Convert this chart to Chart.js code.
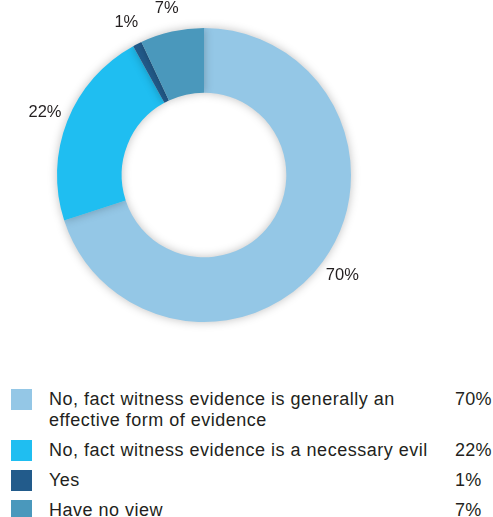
<!DOCTYPE html>
<html>
<head>
<meta charset="utf-8">
<script src="https://cdn.jsdelivr.net/npm/chart.js@4"></script>
<style>
  body { margin: 0; background: #fff; font-family: "Liberation Sans", Arial, sans-serif; color: #231f20; }
  #wrap { position: relative; width: 493px; height: 345px; }
  #legend { position: absolute; left: 0; top: 389px; width: 493px; }
  .row { position: relative; margin-bottom: 9px; }
  .sw { position: absolute; left: 11px; top: 0; width: 21px; height: 21px; }
  .txt { margin-left: 49px; width: 392px; font-size: 18px; line-height: 21px; letter-spacing: 0.5px; }
  .val { position: absolute; left: 455px; top: 0; font-size: 18px; line-height: 21px; letter-spacing: 0.3px; }
</style>
</head>
<body>
<div id="wrap"><canvas id="pie"></canvas></div>
<div id="legend"></div>
<script>
const categories = [
  "No, fact witness evidence is generally an effective form of evidence",
  "No, fact witness evidence is a necessary evil",
  "Yes",
  "Have no view"
];
const values = [70, 22, 1, 7];
const colors = ["#94c7e6", "#1fbef1", "#225b8b", "#4a98bc"];

const outerLabels = {
  id: "outerLabels",
  afterDatasetsDraw(chart) {
    const ctx = chart.ctx;
    const meta = chart.getDatasetMeta(0);
    ctx.save();
    ctx.font = "16.5px 'Liberation Sans', Arial, sans-serif";
    ctx.fillStyle = "#231f20";
    ctx.textAlign = "center";
    ctx.textBaseline = "middle";
    meta.data.forEach((arc, i) => {
      const mid = (arc.startAngle + arc.endAngle) / 2;
      const r = arc.outerRadius + 24;
      ctx.fillText(values[i] + "%", arc.x + Math.cos(mid) * r, arc.y + Math.sin(mid) * r);
    });
    ctx.restore();
  }
};

const shadow = {
  id: "shadow",
  beforeDatasetsDraw(chart) {
    const ctx = chart.ctx;
    ctx.save();
    ctx.shadowColor = "rgba(0,0,0,0.25)";
    ctx.shadowBlur = 10;
    ctx.shadowOffsetX = 0;
    ctx.shadowOffsetY = 0;
  },
  afterDatasetsDraw(chart) {
    chart.ctx.restore();
  }
};

new Chart(document.getElementById("pie"), {
  type: "doughnut",
  data: {
    labels: categories,
    datasets: [{
      data: values,
      backgroundColor: colors,
      borderWidth: 0
    }]
  },
  options: {
    responsive: true,
    maintainAspectRatio: false,
    animation: false,
    cutout: "56%",
    layout: { padding: { left: 57, top: 28, right: 142, bottom: 23 } },
    plugins: {
      legend: { display: false },
      tooltip: { enabled: false }
    }
  },
  plugins: [shadow, outerLabels]
});

const legend = document.getElementById("legend");
categories.forEach((c, i) => {
  const row = document.createElement("div");
  row.className = "row";
  row.innerHTML = `<div class="sw" style="background:${colors[i]}"></div>
    <div class="txt">${c}</div><div class="val">${values[i]}%</div>`;
  legend.appendChild(row);
});
</script>
</body>
</html>
